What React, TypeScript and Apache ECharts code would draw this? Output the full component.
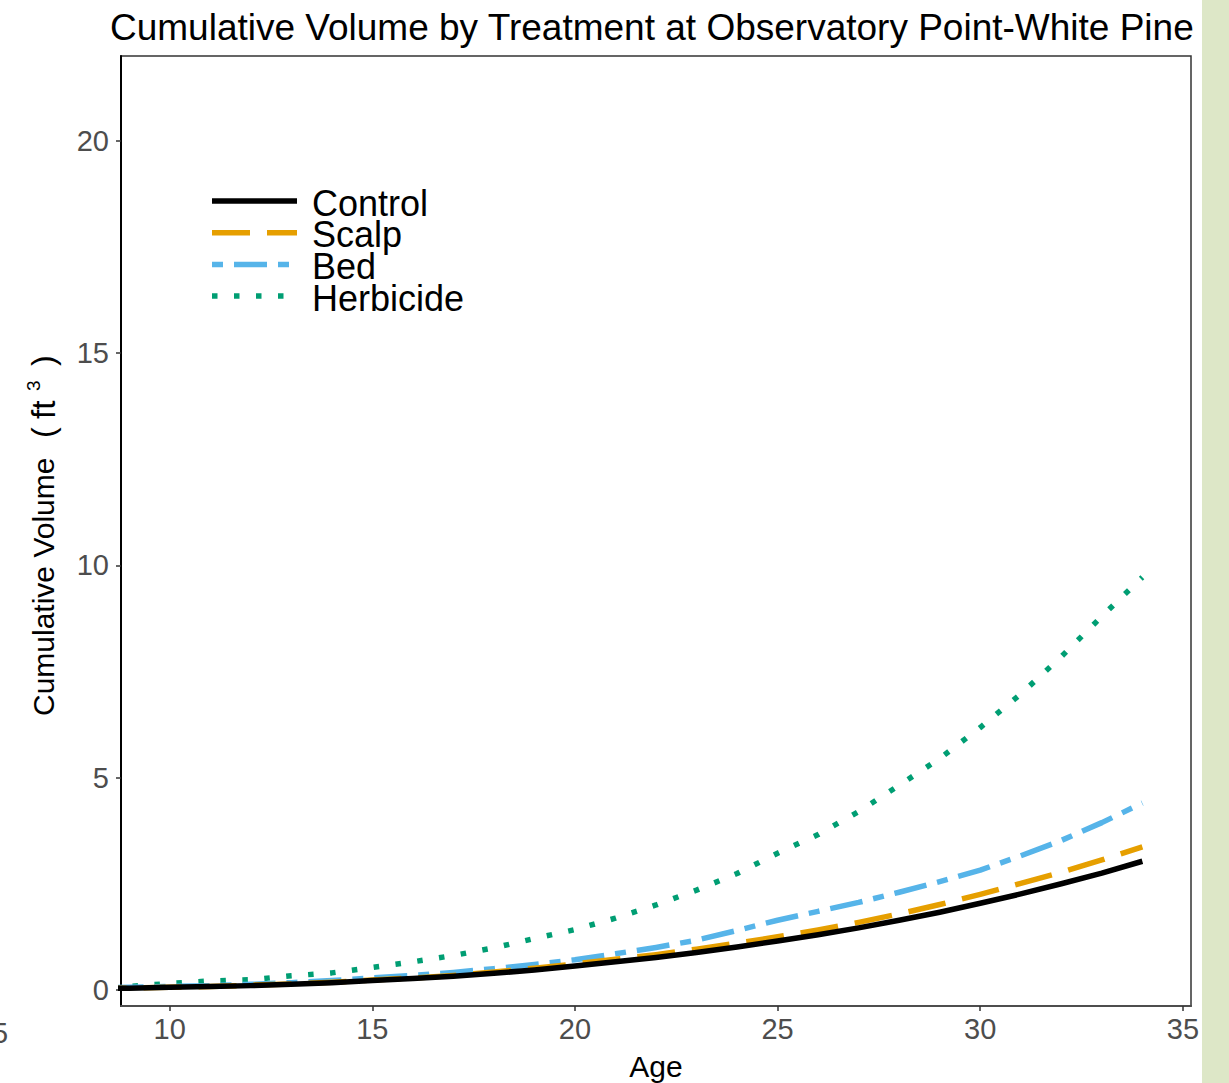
import React, { useEffect, useRef } from "react";
import * as echarts from "echarts";

// Stand age (years)
const ages = [8, 9, 10, 11, 12, 13, 14, 15, 16, 17, 18, 19, 20, 21, 22, 23, 24, 25, 26, 27, 28, 29, 30, 31, 32, 33, 34];

// Cumulative volume (ft^3) per treatment
const control = [0.03, 0.04, 0.06, 0.08, 0.1, 0.13, 0.17, 0.22, 0.27, 0.32, 0.39, 0.47, 0.56, 0.66, 0.76, 0.88, 1.01, 1.15, 1.3, 1.46, 1.64, 1.83, 2.04, 2.26, 2.5, 2.75, 3.03];
const scalp = [0.03, 0.04, 0.06, 0.08, 0.11, 0.14, 0.18, 0.23, 0.28, 0.34, 0.42, 0.51, 0.61, 0.72, 0.83, 0.96, 1.1, 1.25, 1.41, 1.59, 1.79, 2.01, 2.25, 2.51, 2.77, 3.06, 3.37];
const bed = [0.04, 0.06, 0.08, 0.1, 0.13, 0.17, 0.22, 0.28, 0.34, 0.41, 0.5, 0.6, 0.71, 0.85, 1.0, 1.17, 1.4, 1.64, 1.85, 2.06, 2.3, 2.55, 2.82, 3.16, 3.52, 3.94, 4.4];
const herbicide = [0.05, 0.08, 0.15, 0.21, 0.24, 0.33, 0.4, 0.53, 0.66, 0.81, 0.99, 1.21, 1.42, 1.69, 2.0, 2.35, 2.74, 3.22, 3.66, 4.2, 4.82, 5.45, 6.18, 6.97, 7.85, 8.8, 9.72];

const treatments = ["Control", "Scalp", "Bed", "Herbicide"];
const xTicks = [10, 15, 20, 25, 30, 35];
const yTicks = [0, 5, 10, 15, 20];

const FONT = "'Liberation Sans', Arial, Helvetica, sans-serif";

// R-style line types scaled to the drawn line width
const styles = [
  { color: "#000000", dash: "solid" as any },
  { color: "#E69F00", dash: [38, 17] },
  { color: "#56B4E9", dash: [11, 11, 33, 11] },
  { color: "#009E73", dash: [5.5, 16.5] },
];
const values = [control, scalp, bed, herbicide];

function vText(text: string, x: number, y: number, fontSize: number, align: string) {
  return {
    type: "text",
    x,
    y,
    rotation: Math.PI / 2,
    style: {
      text,
      fontSize,
      fontFamily: FONT,
      fill: "#000000",
      align,
      verticalAlign: "middle",
    },
  };
}

export default function App() {
  const ref = useRef<HTMLDivElement>(null);

  useEffect(() => {
    if (!ref.current) return;
    const chart = echarts.init(ref.current, undefined, { renderer: "svg" });

    const series = treatments.map((name, k) => ({
      name,
      type: "line",
      showSymbol: false,
      symbol: "none",
      clip: true,
      data: ages.map((a, i) => [a, values[k][i]]),
      lineStyle: {
        color: styles[k].color,
        width: 5.5,
        type: styles[k].dash,
        cap: "butt",
        join: "round",
      },
      z: 10 - k,
    }));

    const legendTop = 201;
    const legendStep = 31.7;
    const legendGraphics: any[] = [];
    treatments.forEach((name, k) => {
      const y = legendTop + k * legendStep;
      legendGraphics.push({
        type: "line",
        shape: { x1: 212, y1: y, x2: 297, y2: y },
        style: {
          stroke: styles[k].color,
          lineWidth: 5.5,
          lineDash: Array.isArray(styles[k].dash) ? styles[k].dash : null,
          lineCap: "butt",
        },
      });
      legendGraphics.push({
        type: "text",
        x: 312,
        y: y + 2,
        style: {
          text: name,
          fontSize: 36,
          lineHeight: 30,
          fontFamily: FONT,
          fill: "#000000",
          align: "left",
          verticalAlign: "middle",
        },
      });
    });

    chart.setOption({
      animation: false,
      backgroundColor: "#ffffff",
      title: {
        text: "Cumulative Volume by Treatment at Observatory Point-White Pine",
        left: 105,
        top: 4,
        textStyle: {
          fontSize: 37,
          fontWeight: "normal",
          fontFamily: FONT,
          color: "#000000",
        },
      },
      grid: {
        left: 121,
        top: 56,
        right: 38,
        bottom: 77,
        show: true,
        borderColor: "#333333",
        borderWidth: 1.5,
        backgroundColor: "#ffffff",
      },
      xAxis: {
        type: "value",
        min: 8.8,
        max: 35.2,
        axisLine: { show: true, onZero: false, lineStyle: { color: "#4d4d4d", width: 2 } },
        axisTick: {
          show: true,
          customValues: xTicks,
          length: 5,
          lineStyle: { color: "#333333", width: 1.5 },
        },
        axisLabel: {
          customValues: xTicks,
          fontSize: 29,
          color: "#4d4d4d",
          fontFamily: FONT,
          margin: 8,
        },
        splitLine: { show: false },
      },
      yAxis: {
        type: "value",
        min: -0.38,
        max: 22,
        axisLine: { show: true, onZero: false, lineStyle: { color: "#000000", width: 2 } },
        axisTick: {
          show: true,
          customValues: yTicks,
          length: 5,
          lineStyle: { color: "#333333", width: 1.5 },
        },
        axisLabel: {
          customValues: yTicks,
          fontSize: 29,
          color: "#4d4d4d",
          fontFamily: FONT,
          margin: 12,
        },
        splitLine: { show: false },
      },
      series,
      graphic: [
        ...legendGraphics,
        {
          type: "text",
          x: 656,
          y: 1066,
          style: {
            text: "Age",
            fontSize: 30,
            fontFamily: FONT,
            fill: "#000000",
            align: "center",
            verticalAlign: "middle",
          },
        },
        // y-axis title: "Cumulative Volume  (ft³)" read bottom to top
        vText("Cumulative Volume", 43, 716, 30, "left"),
        vText("(", 43, 438, 32, "left"),
        vText("ft", 43, 419, 33, "left"),
        vText("3", 33, 391, 19, "left"),
        vText(")", 43, 366, 32, "left"),
        {
          type: "text",
          x: 0,
          y: 1033,
          style: {
            text: "5",
            fontSize: 29,
            fontFamily: FONT,
            fill: "#4d4d4d",
            align: "center",
            verticalAlign: "middle",
          },
        },
        {
          type: "rect",
          z: 100,
          shape: { x: 1202, y: 0, width: 27, height: 1083 },
          style: { fill: "#dde7c7" },
        },
      ],
    });

    return () => chart.dispose();
  }, []);

  return (
    <div
      ref={ref}
      style={{ position: "absolute", left: 0, top: 0, width: 1229, height: 1083 }}
    />
  );
}
